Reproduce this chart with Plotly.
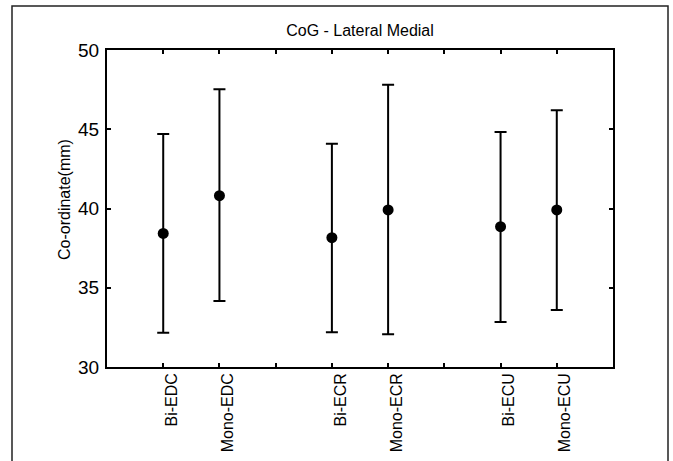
import plotly.graph_objects as go

categories = ["Bi-EDC", "Mono-EDC", "Bi-ECR", "Mono-ECR", "Bi-ECU", "Mono-ECU"]
means = [38.43, 40.81, 38.16, 39.91, 38.85, 39.91]
upper = [44.70, 47.52, 44.09, 47.81, 44.83, 46.20]
lower = [32.16, 34.16, 32.19, 32.06, 32.84, 33.60]
y_ticks = [30, 35, 40, 45, 50]

# positions: pairs separated by an empty slot
xpos = [i + i // 2 + 1 for i in range(len(categories))]
err_plus = [u - m for u, m in zip(upper, means)]
err_minus = [m - l for m, l in zip(means, lower)]

tickvals = list(range(1, 9))
LABEL_SHIFT = 0.15  # labels sit slightly right of their ticks in the reference
label_vals = [p + LABEL_SHIFT for p in xpos]

font_family = "Arial, Liberation Sans, sans-serif"

fig = go.Figure()
fig.add_trace(go.Scatter(
    x=xpos, y=means, mode="markers",
    marker=dict(color="black", size=11, symbol="circle"),
    error_y=dict(type="data", symmetric=False, array=err_plus, arrayminus=err_minus,
                 color="black", thickness=2, width=6),
    showlegend=False,
))
fig.add_trace(go.Scatter(
    x=[None], y=[None], xaxis="x2", mode="markers", showlegend=False, hoverinfo="skip",
))

W, H = 673, 461
L, R, T, B = 107, 60, 50, 94
pw, ph = W - L - R, H - T - B

fig.update_layout(
    template="none",
    width=W, height=H,
    margin=dict(l=L, r=R, t=T, b=B, autoexpand=False),
    paper_bgcolor="white", plot_bgcolor="white",
    font=dict(family=font_family, color="black"),
    title=dict(text="CoG - Lateral Medial", x=360 / W, xanchor="center",
               y=1 - 30 / H, yanchor="middle", font=dict(size=16, color="black")),
    xaxis=dict(
        automargin=False,
        range=[0, 9], tickvals=tickvals, showticklabels=False,
        ticks="inside", ticklen=4, tickwidth=2, tickcolor="black",
        showline=True, linewidth=2, linecolor="black", mirror="ticks",
        showgrid=False, zeroline=False,
    ),
    xaxis2=dict(
        overlaying="x", side="bottom", anchor="y", automargin=False,
        range=[0, 9], tickvals=label_vals, ticktext=categories, tickangle=-90,
        ticks="", showline=False, showgrid=False, zeroline=False,
        tickfont=dict(size=16, color="black", family=font_family), ticklabelstandoff=2,
    ),
)
fig.update_yaxes(
    automargin=False,
    range=[30, 50], tickvals=y_ticks, ticktext=[str(v) for v in y_ticks],
    ticks="inside", ticklen=4, tickwidth=2, tickcolor="black",
    showline=True, linewidth=2, linecolor="black", mirror="ticks",
    showgrid=False, zeroline=False, tickfont=dict(size=19, color="black"),
    ticklabelstandoff=2,
)
fig.add_annotation(
    text="Co-ordinate(mm)", xref="paper", yref="paper",
    x=(65 - L) / pw, y=(367 - 200) / ph, xanchor="center", yanchor="middle",
    textangle=-90, showarrow=False,
    font=dict(size=16, color="black", family=font_family),
)
fig.add_shape(
    type="rect", xref="paper", yref="paper",
    x0=(12 - L) / pw, x1=(668 - L) / pw,
    y0=(T + ph - 480) / ph, y1=(T + ph - 6) / ph,
    line=dict(color="#222222", width=1.5), fillcolor="rgba(0,0,0,0)", layer="above",
)
fig.write_html("out.html")
